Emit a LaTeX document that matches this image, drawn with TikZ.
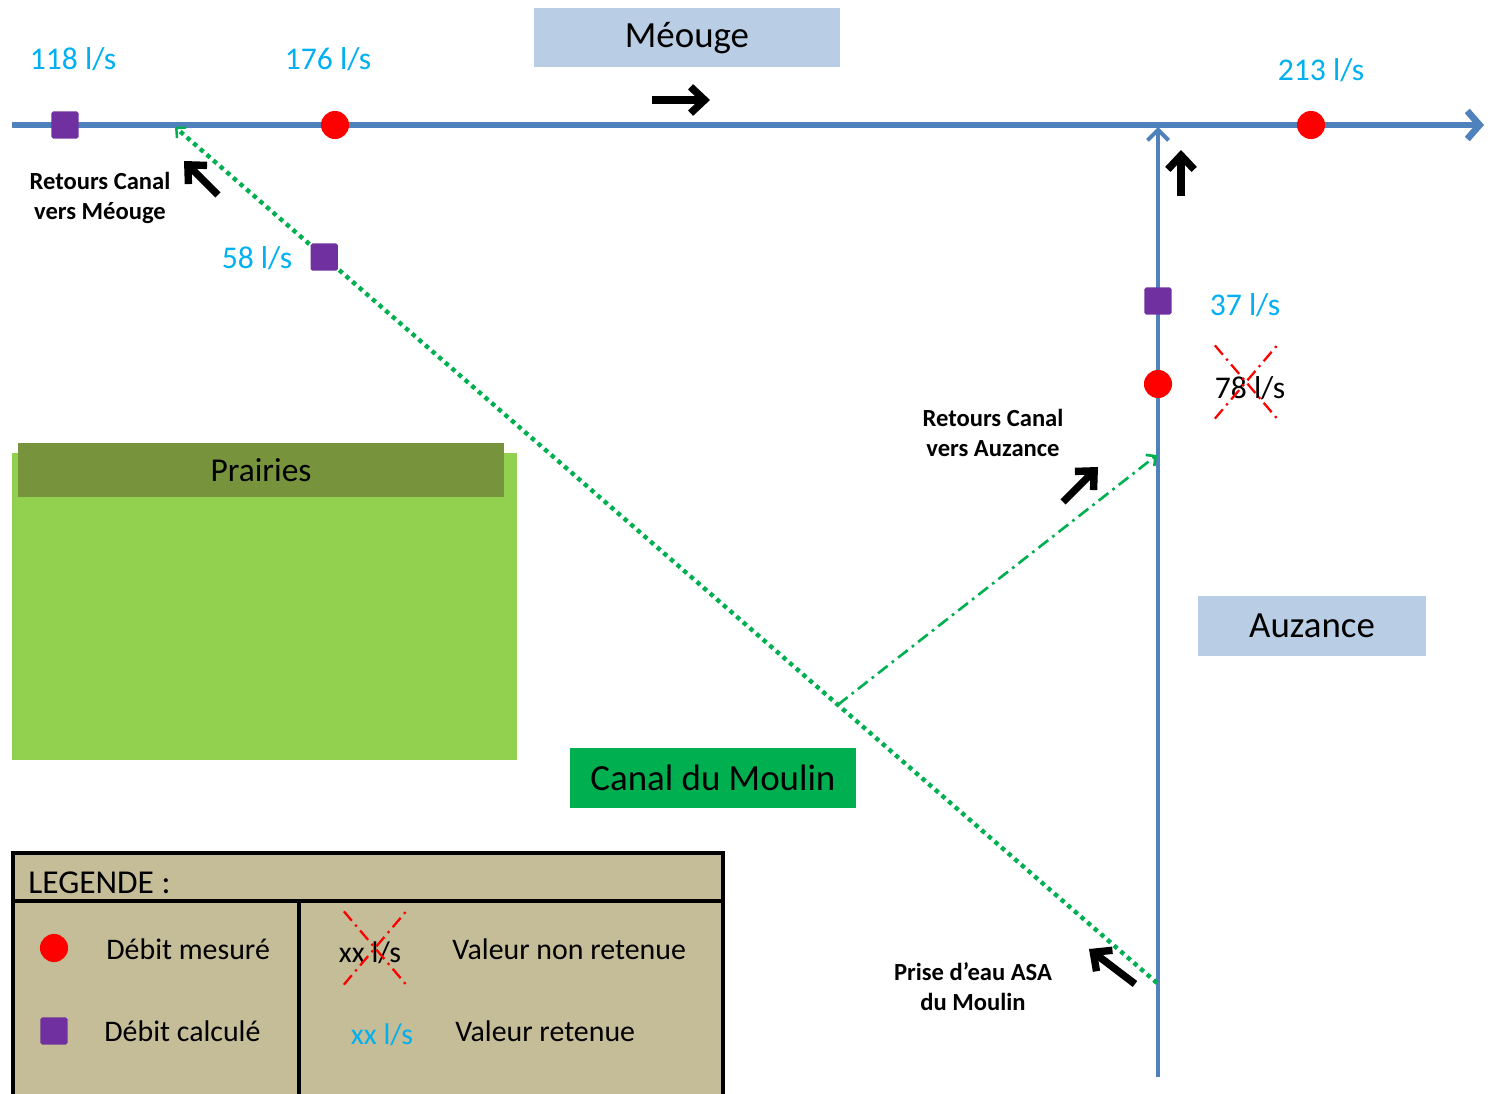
\documentclass[tikz,border=0pt]{standalone}
\usepackage{fontspec}
\setmainfont{Carlito}
\usetikzlibrary{positioning,arrows.meta,shapes.misc,calc}
\definecolor{riverblue}{RGB}{79,129,189}
\definecolor{tagblue}{RGB}{185,205,229}
\definecolor{valcyan}{RGB}{0,176,240}
\definecolor{calcpurple}{RGB}{112,48,160}
\definecolor{canalgreen}{RGB}{0,176,80}
\definecolor{meadow}{RGB}{146,208,80}
\definecolor{meadowdark}{RGB}{119,147,60}
\definecolor{legendtan}{RGB}{196,189,151}

\begin{document}
\begin{tikzpicture}[x=0.02cm, y=-0.02cm,
  river/.style={riverblue, line width=3.8pt,
                -{Straight Barb[length=7pt, width=16pt]}},
  trib/.style={riverblue, line width=2.3pt,
               -{Straight Barb[length=6pt, width=12pt]}},
  canal/.style={canalgreen, line width=2.5pt, dash pattern=on 2.5pt off 2.5pt,
                -{Straight Barb[length=4pt, width=8pt, line width=1.4pt]}},
  retour/.style={canalgreen, line width=1.5pt,
                 dash pattern=on 7pt off 3pt on 1.5pt off 3pt,
                 -{Straight Barb[length=4pt, width=8pt]}},
  flow/.style={black, line width=4.2pt, -{Straight Barb[length=8pt, width=15pt]}},
  meas/.style={circle, fill=red, inner sep=0pt, minimum size=16pt},
  calcsq/.style={rectangle, fill=calcpurple, rounded corners=1pt,
                 inner sep=0pt, minimum size=15.5pt},
  valnum/.style={text=valcyan, font=\fontsize{18}{20}\selectfont, inner sep=1pt},
  note/.style={align=center, font=\fontsize{14}{17}\selectfont\bfseries},
  tag/.style={fill=tagblue, inner sep=0pt, font=\fontsize{21}{24}\selectfont},
  strike/.style={cross out, draw=red, line width=1.3pt,
                 dash pattern=on 7pt off 3pt on 1.3pt off 3pt,
                 minimum width=1.2cm, minimum height=1.42cm},
  frame/.style={black, line width=1.9pt},
  keytext/.style={anchor=west, inner sep=0pt, font=\fontsize{17}{20}\selectfont}
]
\useasboundingbox (0,0) rectangle (1488,1094);

% rivers and canal
\coordinate (meo-w) at (12,125);
\coordinate (meo-e) at (1484,125);
\coordinate (auz-s) at (1158,1077);
\coordinate (auz-n) at (1158,127);
\coordinate (prise) at (1157,983);
\coordinate (retm) at (175,127);
\coordinate (reta) at (1157,455);
\coordinate (branch) at ($(prise)!0.325!(retm)$);

\draw[river] (meo-w) -- (meo-e);
\draw[trib] (auz-s) -- (auz-n);
\draw[canal] (prise) -- (retm);
\draw[retour] (branch) -- (reta);

% name tags
\node[tag, minimum width=6.12cm, minimum height=1.18cm] (meouge) at (687,38) {Méouge};
\node[tag, minimum width=4.58cm, minimum height=1.2cm] (auzance) at (1312,626) {Auzance};
\node[tag, fill=canalgreen, minimum width=5.74cm, minimum height=1.2cm] (moulin) at (713,778) {Canal du Moulin};

% meadows
\node[fill=meadow, minimum width=10.1cm, minimum height=6.14cm, inner sep=0pt] (prairie) at (264.5,606.5) {};
\node[fill=meadowdark, minimum width=9.72cm, minimum height=1.08cm, inner sep=0pt,
      font=\fontsize{19}{22}\selectfont] (prairiehead) at (261,470) {Prairies};

% gauging points
\node[calcsq] (sq118) at (65,125) {};
\node[meas] (pt176) at (335,125) {};
\node[meas] (pt213) at (1311,125) {};
\node[calcsq] (sq58) at ($(prise)!0.848!(retm)$) {};
\node[calcsq] (sq37) at (1158,301) {};
\node[meas] (pt78) at (1158,384) {};

\node[valnum] (q118) at (73,59) {118 l/s};
\node[valnum] (q176) at (328,59) {176 l/s};
\node[valnum] (q213) at (1321,70) {213 l/s};
\node[valnum] (q58) at (257,258) {58 l/s};
\node[valnum] (q37) at (1245,305) {37 l/s};
\node[valnum, text=black] (q78) at (1250,388) {78 l/s};
\node[strike] (x78) at (1246,382) {};

% flow directions
\node[note] (lblmeo) at (100,198) {Retours Canal\\vers Méouge};
\node[note] (lblauz) at (993,433) {Retours Canal\\vers Auzance};
\node[note] (lblprise) at (973,987) {Prise d’eau ASA\\du Moulin};

\coordinate (f1a) at (652,100);  \coordinate (f1b) at (710,100);
\coordinate (f2a) at (1181,196); \coordinate (f2b) at (1181,150);
\coordinate (f3a) at (218,195);  \coordinate (f3b) at (184,161);
\coordinate (f4a) at (1063,502); \coordinate (f4b) at (1098,467);
\coordinate (f5a) at (1135,984); \coordinate (f5b) at (1089,949);
\foreach \i in {1,...,5}
  \draw[flow] (f\i a) -- (f\i b);

% legend
\fill[legendtan] (13,853) rectangle (723,1094);
\draw[frame] (13,1094) -- (13,853) -- (723,853) -- (723,1094);
\draw[frame] (13,901) -- (723,901);
\draw[frame] (299,901) -- (299,1094);
\node[keytext, font=\fontsize{19}{22}\selectfont] (legtitle) at (28,883) {LEGENDE :};

\node[meas] (kmeas) at (54,948) {};
\node[calcsq] (kcalc) at (54,1031) {};
\node[keytext] (tmeas) at (106,949) {Débit mesuré};
\node[keytext] (tcalc) at (104,1031) {Débit calculé};

\node[valnum, text=black, font=\fontsize{17}{20}\selectfont] (kold) at (370,953) {xx l/s};
\node[strike] (xold) at (375,948) {};
\node[valnum, font=\fontsize{17}{20}\selectfont] (knew) at (382,1035) {xx l/s};
\node[keytext] (told) at (452,949) {Valeur non retenue};
\node[keytext] (tnew) at (455,1031) {Valeur retenue};
\end{tikzpicture}
\end{document}
